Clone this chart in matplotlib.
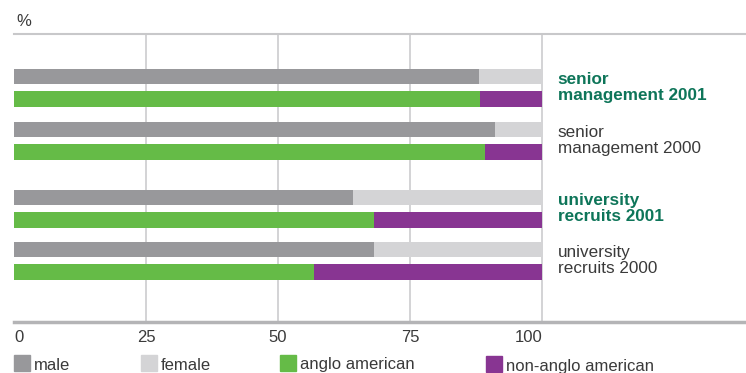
import matplotlib.pyplot as plt
from matplotlib.patches import Rectangle

# data (percent)
groups = ['senior\nmanagement 2001', 'senior\nmanagement 2000',
          'university\nrecruits 2001', 'university\nrecruits 2000']
highlight = [True, False, True, False]
male = [88.1, 91.1, 64.2, 68.2]
anglo = [88.3, 89.2, 68.2, 56.8]
female = [100 - v for v in male]
non_anglo = [100 - v for v in anglo]
ticks = [0, 25, 50, 75, 100]

c_male = '#98989b'
c_female = '#d4d4d6'
c_anglo = '#65bb47'
c_non = '#883592'
c_green_txt = '#0e7559'
c_txt = '#3a3a3a'
c_grid = '#c8c8ca'

plt.rcParams['font.family'] = ['Liberation Sans Narrow', 'Liberation Sans', 'DejaVu Sans']

fig = plt.figure(figsize=(7.46, 3.73), dpi=100)
W, H = 746, 373
ax = fig.add_axes([14 / W, 51 / H, (746 - 14) / W, (322 - 34) / H])

# layout: pixel offsets from top of plot area
group_top = [42.5, 95.5, 163.5, 215.5]
pair_gap = 22.5
bar_h = 15.5

for i in range(len(groups)):
    y1 = group_top[i]
    y2 = y1 + pair_gap
    ax.barh(y1, male[i], height=bar_h, color=c_male, zorder=3)
    ax.barh(y1, female[i], left=male[i], height=bar_h, color=c_female, zorder=3)
    ax.barh(y2, anglo[i], height=bar_h, color=c_anglo, zorder=3)
    ax.barh(y2, non_anglo[i], left=anglo[i], height=bar_h, color=c_non, zorder=3)
    if highlight[i]:
        ax.text(103, (y1 + y2) / 2, groups[i], color=c_green_txt, fontsize=12.3,
                fontweight='bold', va='center', ha='left', linespacing=1.05,
                family=['Liberation Sans', 'DejaVu Sans'])
    else:
        ax.text(103, (y1 + y2) / 2, groups[i], color=c_txt, fontsize=12.3,
                va='center', ha='left', linespacing=1.05,
                family=['Liberation Sans', 'DejaVu Sans'])

ax.set_xlim(0, (746 - 14) / 5.28)
ax.set_ylim(288, 0)
for t in ticks[1:]:
    ax.axvline(t, color=c_grid, lw=1.1, zorder=1)

for s in ['left', 'right']:
    ax.spines[s].set_visible(False)
ax.spines['top'].set_color(c_grid)
ax.spines['top'].set_linewidth(1.5)
ax.spines['bottom'].set_color('#b4b4b6')
ax.spines['bottom'].set_linewidth(2.5)

ax.set_yticks([])
ax.set_xticks(ticks)
ax.set_xticklabels([str(t) for t in ticks], fontsize=12, color=c_txt)
ax.tick_params(axis='x', length=0, pad=6)
ax.get_xticklabels()[0].set_horizontalalignment('left')
ax.get_xticklabels()[-1].set_horizontalalignment('right')

fig.text(16 / W, 1 - 21 / H, '%', fontsize=12, color=c_txt, va='center', ha='left')

# legend
legend_items = [('male', c_male, 14), ('female', c_female, 141),
                ('anglo american', c_anglo, 280), ('non-anglo american', c_non, 486)]
for label, col, x in legend_items:
    y = 364 if label != 'non-anglo american' else 365
    fig.patches.append(Rectangle((x / W, 1 - (y + 7) / H), 16 / W, 16 / H,
                                 transform=fig.transFigure, color=col))
    fig.text((x + 20) / W, 1 - (y + 1) / H, label, fontsize=12, color=c_txt,
             va='center', ha='left')

fig.savefig('out.png', dpi=100)
